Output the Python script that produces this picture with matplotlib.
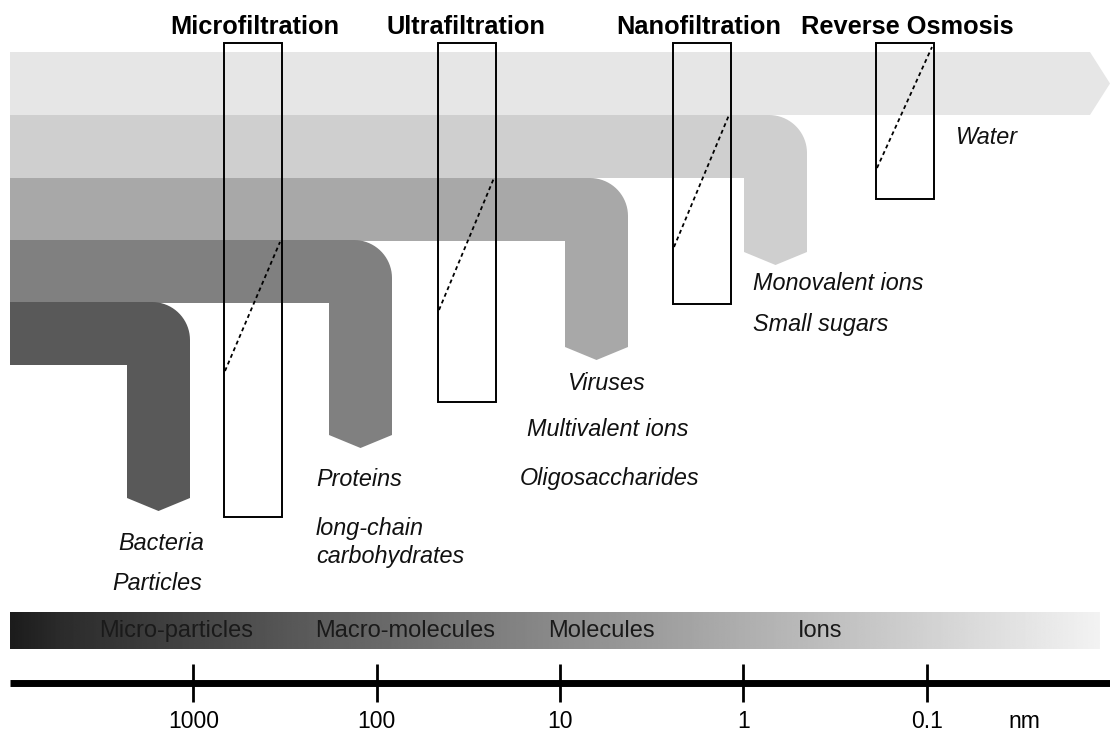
import numpy as np
import matplotlib.pyplot as plt
from matplotlib.patches import Polygon, Rectangle

plt.rcParams['font.family'] = ['Liberation Sans', 'DejaVu Sans']

# feed streams, top (water) to bottom (particles)
stream_colors = ['#e6e6e6', '#cfcfcf', '#a8a8a8', '#808080', '#595959']
stream_top = [52, 115, 178, 240, 302]
stream_turn = [None, 744, 565, 329, 127]   # inner edge of the downward leg
stream_end = [None, 252, 347, 435, 498]    # bottom of the leg
W = 63     # stream thickness
R = 38     # outer corner radius
TIP = 13

# membranes
membranes = ['Microfiltration', 'Ultrafiltration', 'Nanofiltration', 'Reverse Osmosis']
title_x = [255, 466, 699, 907]
box_left = [224, 438, 673, 876]
box_bottom = [517, 402, 304, 199]
box_w = 58
box_top = 43
cut_lo = [371, 310, 247, 168]
cut_hi = [242, 178, 115, 47]

# what each membrane holds back
species = ['Water', 'Monovalent ions', 'Small sugars', 'Viruses', 'Multivalent ions',
           'Oligosaccharides', 'Proteins', 'long-chain', 'carbohydrates', 'Bacteria', 'Particles']
species_x = [956, 753, 753, 568, 527, 520, 316, 316, 316, 118, 112]
species_y = [137, 284, 324, 384, 430, 479, 480, 528, 556, 543, 583]

# size scale
sizes_nm = [1000, 100, 10, 1, 0.1]
classes = ['Micro-particles', 'Macro-molecules', 'Molecules', 'Ions']
class_x = [176, 405, 601, 820]
grad_x = [10, 60, 1100]
grad_level = [0.11, 0.17, 0.95]

X0, X1 = 10, 1110
decade = (X1 - X0) / 6.0   # 1e4 nm ... 1e-2 nm


def size_x(nm):
    return X0 + (4 - np.log10(nm)) * decade


fig = plt.figure(figsize=(11.1, 7.34), dpi=100)
ax = fig.add_axes([0, 0, 1, 1])
ax.set_xlim(0, 1110)
ax.set_ylim(734, 0)
ax.axis('off')

# streams
for i, c in enumerate(stream_colors):
    top = stream_top[i]
    if stream_turn[i] is None:
        pts = [(X0, top), (1090, top), (1110, top + W / 2), (1090, top + W), (X0, top + W)]
    else:
        xi = stream_turn[i]
        xo = xi + W
        t = np.linspace(np.pi / 2, 0, 20)
        arc = list(zip(xo - R + R * np.cos(t), top + R - R * np.sin(t)))
        end = stream_end[i]
        pts = [(X0, top)] + arc + [(xo, end), (xi + W / 2, end + TIP), (xi, end),
                                   (xi, top + W), (X0, top + W)]
    ax.add_patch(Polygon(pts, closed=True, fc=c, ec='none', zorder=1))

# membrane boxes
for i, name in enumerate(membranes):
    x = box_left[i]
    ax.add_patch(Rectangle((x, box_top), box_w, box_bottom[i] - box_top,
                           fill=False, ec='black', lw=1.4, zorder=3))
    ax.plot([x + 1, x + box_w - 2], [cut_lo[i], cut_hi[i]], color='black',
            lw=1.3, ls=(0, (2.2, 1.8)), zorder=3)
    ax.text(title_x[i], 27, name, ha='center', va='center', fontsize=18.3,
            fontweight='bold', color='black')

for s, x, y in zip(species, species_x, species_y):
    ax.text(x, y, s, ha='left', va='center', fontsize=16.8, style='italic', color='#111111')

# gradient bar
xs = np.linspace(X0, 1100, 600)
grad = np.interp(xs, grad_x, grad_level)
ax.imshow(np.tile(grad, (2, 1)), cmap='gray', vmin=0, vmax=1, aspect='auto',
          extent=[X0, 1100, 649, 612], zorder=1)
for s, x in zip(classes, class_x):
    ax.text(x, 631, s, ha='center', va='center', fontsize=17, color='#1a1a1a', zorder=2)

# size axis
ax.plot([X0, X1], [682.5, 682.5], color='black', lw=5, solid_capstyle='butt')
tx = [size_x(v) for v in sizes_nm]
ax.vlines(tx, 664, 702, color='black', lw=2)
for v, x in zip(sizes_nm, tx):
    ax.text(x, 721, f'{v:g}', ha='center', va='center', fontsize=16.5)
ax.text(1024, 721, 'nm', ha='center', va='center', fontsize=16.5)

fig.savefig('out.png', dpi=100)
